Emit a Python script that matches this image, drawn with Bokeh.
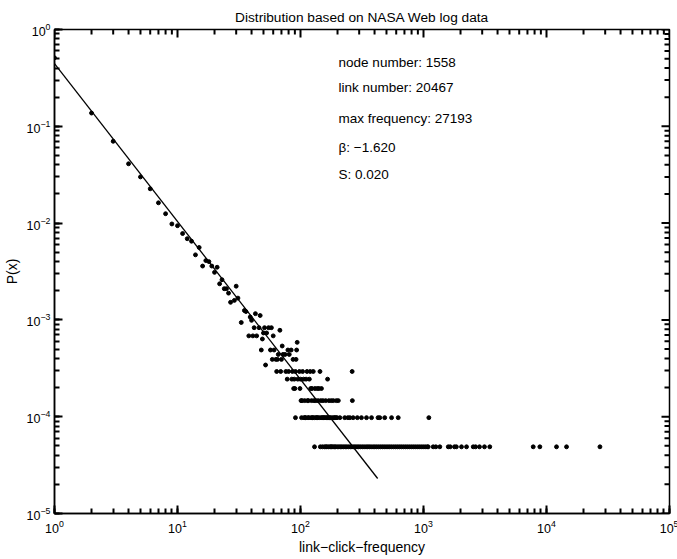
from bokeh.plotting import figure
from bokeh.models import Label, Range1d
from bokeh.embed import file_html
from bokeh.resources import INLINE

# ---------------- data ----------------
link_number = 20467  # P(x) = nodes with frequency x / link number

# upper part of the distribution: frequency and P(x)
head_freq = [1, 2, 3, 4, 5, 6, 7, 8, 9, 10, 11, 12, 13, 14, 15, 16, 17, 18, 19, 20,
             21, 22, 23, 24, 25, 26, 27, 29, 30, 31, 33, 35, 36, 39, 40, 43, 47]
head_p = [0.51, 0.137, 0.070, 0.041, 0.030, 0.0226, 0.0162, 0.0125, 0.0098, 0.0094,
          0.0078, 0.0069, 0.0065, 0.0047, 0.0056, 0.0036, 0.0041, 0.0040, 0.0036, 0.0031,
          0.0035, 0.00236, 0.0026, 0.0021, 0.0021, 0.00189, 0.00152, 0.00159, 0.00223,
          0.00168, 0.00094, 0.00125, 0.00122, 0.00107, 0.00099, 0.00116, 0.00111]

# lower part: rows of equal node count (count / link_number)
row_counts = [17, 16, 15, 14, 13, 12, 11, 10, 9, 8, 7, 6, 5, 4, 3, 2, 1]
row_freqs = [
    [42, 46, 51, 55, 58],
    [68],
    [50, 53],
    [38, 41, 44, 60],
    [49],
    [94],
    [71],
    [48, 57, 61, 79, 84, 93],
    [66, 72, 75, 81],
    [59, 63, 65, 70, 87, 92],
    [52],
    [64, 69, 76, 80, 86, 91, 98, 104, 113, 120, 127, 144, 263],
    [78, 85, 89, 95, 100, 106, 111, 118, 166],
    [88, 90, 99, 121, 124, 131, 137, 141, 148],
    [101, 103, 108, 114, 116, 123, 129, 133, 139, 146, 152, 160, 170, 178, 185, 196, 203, 264],
    [91, 102, 107, 109, 110, 115, 117, 122, 125, 126, 130, 134, 136, 138, 142, 147, 150,
     153, 155, 158, 162, 165, 168, 172, 175, 181, 187, 190, 194, 198, 209, 229, 243, 252,
     268, 290, 313, 344, 378, 427, 441, 484, 550, 623, 1105],
    [130, 145, 151, 157, 161, 164, 169, 174, 177, 180, 184, 189, 193, 199, 205, 211, 217,
     224, 231, 238, 246, 255, 262, 271, 279, 288, 297, 307, 318, 329, 341, 352, 363, 375,
     389, 402, 416, 431, 447, 463, 479, 496, 514, 532, 551, 572, 593, 615, 638, 661, 686,
     712, 738, 766, 795, 825, 856, 889, 922, 957, 993, 1031, 1070, 1092, 1199, 1260, 1358,
     1590, 1650, 1787, 1850, 2037, 2238, 2537, 2650, 2853, 3131, 3459, 7800, 8830, 12060,
     14550, 27193],
]

# fitted power-law line (end points)
fit_x = [1, 424]
fit_y = [0.445, 2.3e-5]

title_text = "Distribution based on NASA Web log data"
info_lines = ["node number: 1558", "link number: 20467", "max frequency: 27193",
              "\u03b2: \u22121.620", "S: 0.020"]

# axis decades
x_decades = [1, 10, 100, 1000, 10000, 100000]
y_decades = [1e-5, 1e-4, 1e-3, 1e-2, 1e-1, 1]
mantissas = [2, 3, 4, 5, 6, 7, 8, 9]

# ---------------- build ----------------
xs = list(head_freq)
ys = list(head_p)
for c, fr in zip(row_counts, row_freqs):
    for f in fr:
        xs.append(f)
        ys.append(c / link_number)

x_minor = [m * d for d in x_decades[:-1] for m in mantissas]
y_minor = [m * d for d in y_decades[:-1] for m in mantissas]

FONT = "Liberation Sans"
X0, X1 = x_decades[0], x_decades[-1]
Y0, Y1 = y_decades[0], y_decades[-1]
FW, FH = 615, 484                      # frame size in pixels
px_x = (len(x_decades) - 1) / FW       # decades per pixel
px_y = (len(y_decades) - 1) / FH

p = figure(frame_width=FW, frame_height=FH, x_axis_type="log", y_axis_type="log",
           x_range=Range1d(X0, X1), y_range=Range1d(Y0, Y1),
           output_backend="svg", toolbar_location=None,
           min_border_left=53, min_border_right=9, min_border_top=29, min_border_bottom=46,
           title=title_text)

p.title.align = "center"
p.title.standoff = 10
p.title.text_font = FONT
p.title.text_font_style = "normal"
p.title.text_font_size = "13.7px"
p.title.text_color = "black"

p.xgrid.visible = False
p.ygrid.visible = False
p.outline_line_color = "black"
p.outline_line_width = 1.5
p.background_fill_color = "white"
p.border_fill_color = "white"

for ax in (p.xaxis[0], p.yaxis[0]):
    ax.axis_line_width = 1.5
    ax.axis_line_color = "black"
    ax.major_tick_in = 8
    ax.major_tick_out = 0
    ax.minor_tick_in = 5
    ax.minor_tick_out = 0
    ax.major_tick_line_width = 2
    ax.minor_tick_line_width = 2
    ax.major_tick_line_color = "black"
    ax.minor_tick_line_color = "black"
    ax.major_label_text_font = FONT
    ax.major_label_text_font_size = "12.5px"
    ax.major_label_text_color = "black"
    ax.axis_label_text_font = FONT
    ax.axis_label_text_font_size = "14px"
    ax.axis_label_text_font_style = "normal"
    ax.axis_label_text_color = "black"

p.xaxis.axis_label = "link\u2212click\u2212frequency"
p.yaxis.axis_label = "P(x)"
p.xaxis.major_label_standoff = 6
p.xaxis.axis_label_standoff = 3
p.yaxis.major_label_standoff = 4
p.yaxis.axis_label_standoff = 4

# inward tick marks on the top and right sides (lengths in pixels converted to decades)
TW = 2
for vals, L in ((x_decades, 8), (x_minor, 5)):
    f = 10 ** (L * px_y)
    p.segment(vals, [Y1] * len(vals), vals, [Y1 / f] * len(vals), line_color="black", line_width=TW)
for vals, L in ((y_decades, 8), (y_minor, 5)):
    f = 10 ** (L * px_x)
    p.segment([X1] * len(vals), vals, [X1 / f] * len(vals), vals, line_color="black", line_width=TW)

p.line(fit_x, fit_y, line_color="black", line_width=1.3)
p.scatter(xs, ys, size=3.9, color="black", marker="circle")

info_x = 204
info_y = [0.456, 0.249, 0.1205, 0.0597, 0.0318]
for t, yy in zip(info_lines, info_y):
    p.add_layout(Label(x=info_x, y=yy, text=t, text_font=FONT, text_font_size="13.5px",
                       text_baseline="middle", text_align="left", text_color="black"))

open("out.html", "w").write(file_html(p, INLINE))
